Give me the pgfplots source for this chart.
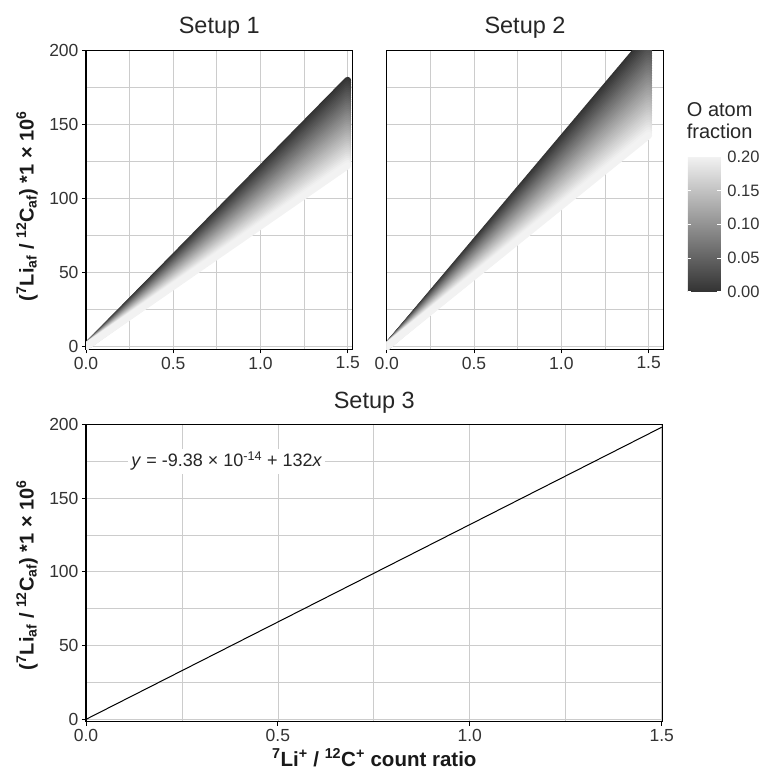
\documentclass[border=0pt]{standalone}
\usepackage{fontspec}
\setmainfont{Liberation Sans}
\usepackage{pgfplots}
\pgfplotsset{compat=1.18}
\pgfplotsset{
  panel/.style={
    scale only axis,
    axis line style={black, line width=1.3pt},
    grid=both,
    major grid style={gray!40, line width=0.8pt},
    minor grid style={gray!40, line width=0.8pt},
    tick align=outside, major tick length=4pt, minor tick length=0pt,
    tick style={black, line width=1pt},
    xtick={0,0.5,1,1.5}, minor xtick={0.25,0.75,1.25},
    ytick={0,50,100,150,200}, minor ytick={25,75,125,175},
    xtick pos=bottom, ytick pos=left,
    x tick label style={/pgf/number format/.cd, fixed, fixed zerofill, precision=1, /tikz/.cd},
    /pgf/number format/assume math mode=true,
    tick label style={font=\fontsize{17.5}{17.5}\selectfont, text=black!80},
    colormap={grays}{rgb255=(51,51,51) rgb255=(242,242,242)},
    point meta min=0, point meta max=0.2,
  },
  fanline/.style={mesh, line width=7pt, line cap=round, point meta=explicit, forget plot},
}
\begin{document}
\begin{tikzpicture}
\useasboundingbox (0pt,0pt) rectangle (764pt,774pt);

% ---------------- Setup 1
\begin{axis}[panel, at={(86pt,424.7pt)}, anchor=south west,
  width=266.7pt, height=298.6pt,
  xmin=0, xmax=1.5287, ymin=-1.8, ymax=200]
\foreach \f/\y in {0/180, 0.005/178.56, 0.01/177.12, 0.015/175.68, 0.02/174.24, 0.025/172.8, 0.03/171.36, 0.035/169.92, 0.04/168.48, 0.045/167.04, 0.05/165.6, 0.055/164.16, 0.06/162.72, 0.065/161.28, 0.07/159.84, 0.075/158.4, 0.08/156.96, 0.085/155.52, 0.09/154.08, 0.095/152.64, 0.1/151.2, 0.105/149.76, 0.11/148.32, 0.115/146.88, 0.12/145.44, 0.125/144, 0.13/142.56, 0.135/141.12, 0.14/139.68, 0.145/138.24, 0.15/136.8, 0.155/135.36, 0.16/133.92, 0.165/132.48, 0.17/131.04, 0.175/129.6, 0.18/128.16, 0.185/126.72, 0.19/125.28, 0.195/123.84, 0.2/122.4}{
  \edef\temp{\noexpand\addplot[fanline] coordinates {(0,0) [\f] (1.5,\y) [\f]};}
  \temp
}
\end{axis}

% ---------------- Setup 2
\begin{axis}[panel, at={(386.7pt,424.7pt)}, anchor=south west,
  width=276.6pt, height=298.6pt,
  xmin=0, xmax=1.5838, ymin=-1.8, ymax=200,
  yticklabels={}, ytick style={draw=none},
  colorbar,
  colorbar/width=33pt,
  colorbar style={
    at={(parent axis.north east)}, anchor=north west,
    xshift=16pt, yshift=-106pt,
    scale only axis, width=33pt, height=135pt,
    ytick={0,0.05,0.1,0.15,0.2},
    ytick pos=both, yticklabel pos=right,
    tick align=inside, major tick length=3.5pt,
    ytick style={draw=white, line width=0.8pt},
    axis line style={draw=none},
    /pgf/number format/assume math mode=true,
    y tick label style={/pgf/number format/.cd, fixed, fixed zerofill, precision=2, /tikz/.cd,
      font=\fontsize{16.5}{16.5}\selectfont, text=black!80, xshift=3pt},
  }]
\foreach \f/\y in {0/210, 0.005/208.32, 0.01/206.64, 0.015/204.96, 0.02/203.28, 0.025/201.6, 0.03/199.92, 0.035/198.24, 0.04/196.56, 0.045/194.88, 0.05/193.2, 0.055/191.52, 0.06/189.84, 0.065/188.16, 0.07/186.48, 0.075/184.8, 0.08/183.12, 0.085/181.44, 0.09/179.76, 0.095/178.08, 0.1/176.4, 0.105/174.72, 0.11/173.04, 0.115/171.36, 0.12/169.68, 0.125/168, 0.13/166.32, 0.135/164.64, 0.14/162.96, 0.145/161.28, 0.15/159.6, 0.155/157.92, 0.16/156.24, 0.165/154.56, 0.17/152.88, 0.175/151.2, 0.18/149.52, 0.185/147.84, 0.19/146.16, 0.195/144.48, 0.2/142.8}{
  \edef\temp{\noexpand\addplot[fanline] coordinates {(0,0) [\f] (1.5,\y) [\f]};}
  \temp
}
\end{axis}

% ---------------- Setup 3
\begin{axis}[panel, at={(86pt,52.3pt)}, anchor=south west,
  width=576.7pt, height=297.4pt,
  xmin=0, xmax=1.5026, ymin=-1.6, ymax=200]
\addplot[black, line width=1pt] coordinates {(0,0) (1.5,198)};
\node[fill=white, inner sep=3pt, font=\fontsize{18}{18}\selectfont, text=black!85]
  at (axis cs:0.367,175) {\textit{y} = -9.38 × 10\textsuperscript{-14} + 132\textit{x}};
\end{axis}

% ---------------- titles and labels
\node[anchor=base, font=\fontsize{23.5}{23.5}\selectfont, text=black!85] at (219.3pt,740pt) {Setup 1};
\node[anchor=base, font=\fontsize{23.5}{23.5}\selectfont, text=black!85] at (525pt,740pt) {Setup 2};
\node[anchor=base, font=\fontsize{23.5}{23.5}\selectfont, text=black!85] at (374.3pt,365.7pt) {Setup 3};

\node[anchor=base west, inner sep=0pt, font=\fontsize{20}{20}\selectfont, text=black!85] at (686.7pt,657.3pt) {O atom};
\node[anchor=base west, inner sep=0pt, font=\fontsize{20}{20}\selectfont, text=black!85] at (686.7pt,635.7pt) {fraction};

\node[rotate=90, font=\fontsize{20}{20}\selectfont\bfseries, text=black!90] at (27pt,568pt)
  {(\textsuperscript{7}Li\textsubscript{af} / \textsuperscript{12}C\textsubscript{af}) *1 × 10\textsuperscript{6}};
\node[rotate=90, font=\fontsize{20}{20}\selectfont\bfseries, text=black!90] at (27pt,199pt)
  {(\textsuperscript{7}Li\textsubscript{af} / \textsuperscript{12}C\textsubscript{af}) *1 × 10\textsuperscript{6}};

\node[anchor=base, font=\fontsize{20.5}{20.5}\selectfont\bfseries, text=black!90] at (374.3pt,8pt)
  {\textsuperscript{7}Li\textsuperscript{+} / \textsuperscript{12}C\textsuperscript{+} count ratio};
\end{tikzpicture}
\end{document}
